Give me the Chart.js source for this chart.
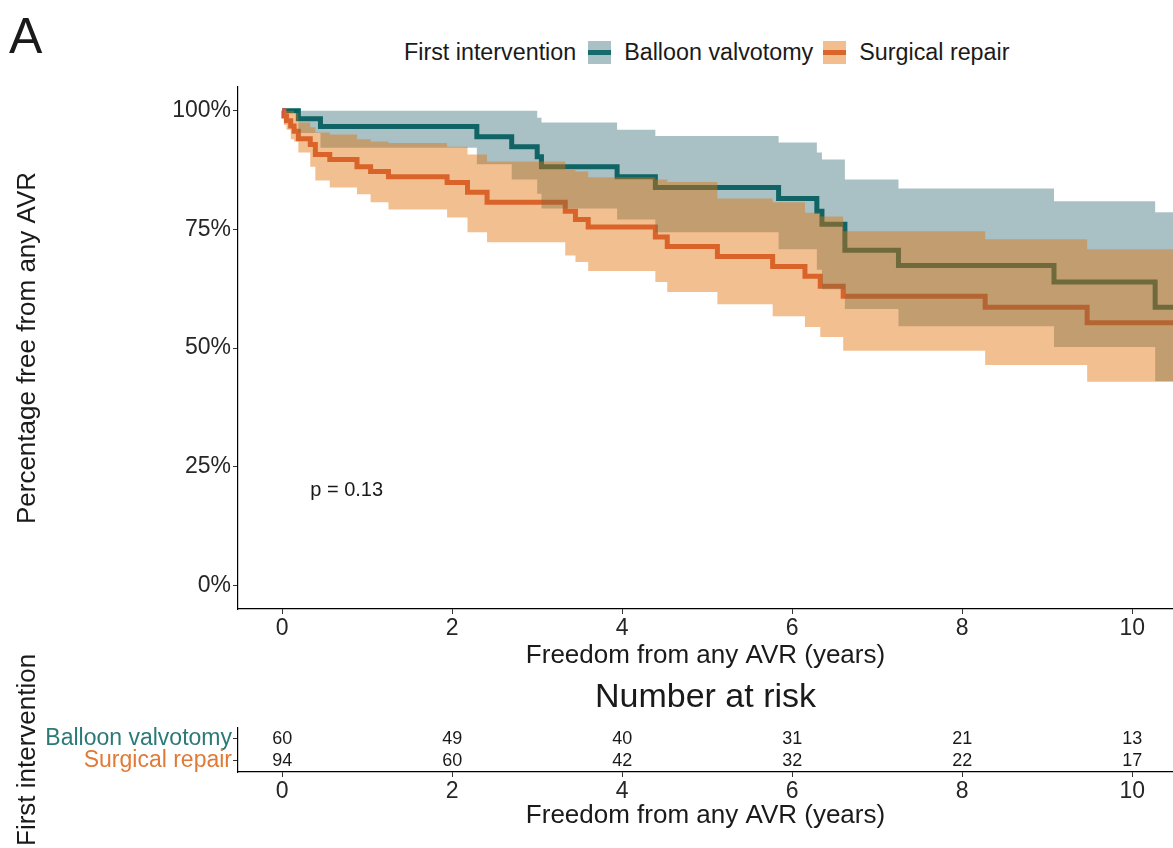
<!DOCTYPE html>
<html>
<head>
<meta charset="utf-8">
<script src="https://cdn.jsdelivr.net/npm/chart.js@4.4.0/dist/chart.umd.min.js"></script>
<style>
  body { margin: 0; background: #fff; width: 1173px; height: 848px; overflow: hidden; position: relative;
         font-family: "Liberation Sans", Arial, sans-serif; color: #1a1a1a; }
  #tag { position: absolute; left: 9px; top: 11px; font-size: 50px; line-height: 50px; }
  #legend { position: absolute; left: 404px; top: 37px; height: 30px; display: flex; align-items: center;
            font-size: 23.3px; line-height: 30px; white-space: nowrap; }
  .key { width: 23px; height: 23px; position: relative; }
  .key i { position: absolute; left: 0; right: 0; top: 9px; height: 5px; }
  canvas { position: absolute; left: 0; }
  #km { top: 0; }
  #risk { top: 640px; }
</style>
</head>
<body>
<div id="tag">A</div>
<div id="legend">
  <span>First intervention</span>
  <span class="key" style="margin:0 13px 0 12px;background:#a9c1c5"><i style="background:#176b6c"></i></span>
  <span>Balloon valvotomy</span>
  <span class="key" style="margin:0 13px 0 10px;background:#f2be8f"><i style="background:#d9652a"></i></span>
  <span>Surgical repair</span>
</div>
<canvas id="km" width="1173" height="680"></canvas>
<canvas id="risk" width="1173" height="208"></canvas>

<script>
// Freedom from any AVR by first intervention (Kaplan-Meier, 95% CI)
const groups = ['Balloon valvotomy', 'Surgical repair'];

const balloonTime  = [0, 0.19, 0.45, 2.29, 2.70, 3.00, 3.05, 3.94, 4.39, 5.84, 6.29, 6.35, 6.62, 7.25, 9.08, 10.27, 10.5];
const balloonSurv  = [100, 98.3, 96.7, 94.5, 92.4, 90.3, 88.2, 86.1, 83.8, 81.5, 78.8, 76.1, 70.6, 67.4, 63.9, 58.6, 58.6];
const balloonUpper = [100, 100, 100, 100, 100, 98.5, 97.5, 96.0, 94.7, 93.3, 91.2, 89.7, 85.5, 83.6, 80.9, 78.6, 78.6];
const balloonLower = [100, 95.3, 92.2, 88.7, 85.5, 82.5, 79.4, 77.1, 74.4, 70.8, 66.5, 62.4, 58.2, 54.6, 50.2, 43.0, 43.0];

const surgicalTime  = [0, 0.02, 0.05, 0.10, 0.14, 0.19, 0.33, 0.39, 0.56, 0.88, 1.04, 1.25, 1.94, 2.18, 2.41, 3.33, 3.45, 3.60, 4.39, 4.53, 5.12, 5.77, 6.15, 6.33, 6.60, 8.27, 9.47, 10.5];
const surgicalSurv  = [100, 98.9, 97.9, 96.8, 95.7, 94.1, 92.9, 90.8, 89.7, 88.2, 87.2, 86.1, 84.9, 82.8, 80.7, 78.8, 77.1, 75.5, 73.4, 71.4, 69.3, 67.2, 65.1, 63.0, 60.9, 58.6, 55.3, 55.3];
const surgicalUpper = [100, 100, 100, 100, 99.5, 97.5, 96.5, 95.4, 95.0, 94.0, 93.5, 93.2, 92.4, 90.8, 89.3, 87.5, 87.2, 86.0, 85.5, 85.0, 81.5, 80.7, 78.5, 77.7, 74.6, 72.9, 70.8, 70.8];
const surgicalLower = [100, 97.0, 96.0, 94.0, 93.5, 91.2, 88.2, 85.3, 83.8, 82.4, 80.7, 79.2, 77.5, 74.4, 72.3, 69.5, 68.1, 66.2, 63.9, 61.8, 59.2, 56.7, 54.4, 52.3, 49.4, 46.4, 42.9, 42.9];

const riskTimes = [0, 2, 4, 6, 8, 10];
const balloonAtRisk  = [60, 49, 40, 31, 21, 13];
const surgicalAtRisk = [94, 60, 42, 32, 22, 17];

const xTicks = [0, 2, 4, 6, 8, 10];
const yTicks = [0, 25, 50, 75, 100];
const pValueText = 'p = 0.13';
const pValueAt = { x: 0.33, y: 20 };

const X_MIN = -0.52, X_MAX = 10.48;
const TEAL_LINE = 'rgb(0, 100, 98)';
const ORANGE_LINE = 'rgb(211, 88, 68)';
const TEAL_BAND = 'rgba(40, 100, 107, 0.4)';
const ORANGE_BAND = 'rgba(226, 112, 10, 0.45)';
const TEXT = '#1a1a1a';
const TICK_TEXT = '#262626';
const FONT = '"Liberation Sans", Arial, sans-serif';

Chart.defaults.font.family = FONT;
Chart.defaults.color = TICK_TEXT;

function pts(xs, ys) {
    return xs.map((x, i) => ({ x: x, y: ys[i] }));
}

function setTicks(values) {
    return scale => { scale.ticks = values.map(v => ({ value: v })); };
}

function survLine(label, xs, ys, color) {
    return {
        label: label, data: pts(xs, ys), stepped: true, borderColor: color, borderWidth: 5,
        pointRadius: 0, fill: false, order: 2
    };
}

function band(xs, ys, color, fill, order) {
    return {
        data: pts(xs, ys), stepped: true, borderWidth: 0, borderColor: 'transparent',
        backgroundColor: color, pointRadius: 0, fill: fill, order: order
    };
}

function axisStyle(extra) {
    return Object.assign({
        border: { display: true, color: '#000', width: 1.2 },
        grid: { drawOnChartArea: false, offset: false, tickLength: 5, tickColor: '#333' }
    }, extra);
}

const pValuePlugin = {
    id: 'pValue',
    afterDatasetsDraw(chart) {
        const { ctx, scales } = chart;
        ctx.save();
        ctx.font = '20px ' + FONT;
        ctx.fillStyle = TEXT;
        ctx.textAlign = 'left';
        ctx.textBaseline = 'middle';
        ctx.fillText(pValueText, scales.x.getPixelForValue(pValueAt.x), scales.y.getPixelForValue(pValueAt.y));
        ctx.restore();
    }
};

new Chart(document.getElementById('km'), {
    type: 'line',
    data: {
        datasets: [
            // orange band on top, teal band under it, lines at the bottom
            band(surgicalTime, surgicalUpper, ORANGE_BAND, '+1', 0),
            band(surgicalTime, surgicalLower, ORANGE_BAND, false, 0),
            band(balloonTime, balloonUpper, TEAL_BAND, '+1', 1),
            band(balloonTime, balloonLower, TEAL_BAND, false, 1),
            survLine(groups[1], surgicalTime, surgicalSurv, ORANGE_LINE),
            survLine(groups[0], balloonTime, balloonSurv, TEAL_LINE)
        ]
    },
    options: {
        responsive: false,
        animation: false,
        layout: { padding: { top: 87, left: 0, right: 0, bottom: 0 } },
        plugins: { legend: { display: false }, tooltip: { enabled: false } },
        scales: {
            x: axisStyle({
                type: 'linear', min: X_MIN, max: X_MAX,
                afterBuildTicks: setTicks(xTicks),
                afterFit: s => { s.height = 71; },
                ticks: { font: { size: 23 }, padding: 1, maxRotation: 0, color: TICK_TEXT },
                title: {
                    display: true, text: 'Freedom from any AVR (years)', color: TEXT,
                    font: { size: 26 }, padding: { top: 0, bottom: 9 }
                }
            }),
            y: axisStyle({
                type: 'linear', min: -5, max: 105,
                afterBuildTicks: setTicks(yTicks),
                afterFit: s => { s.width = 238; },
                ticks: { font: { size: 23 }, padding: 2, color: TICK_TEXT, callback: v => v + '%' },
                title: {
                    display: true, text: 'Percentage free from any AVR', color: TEXT,
                    font: { size: 26 }, padding: { top: 12, bottom: 0 }
                }
            })
        }
    },
    plugins: [pValuePlugin]
});

// number-at-risk table
const riskLabelColors = ['#2b7a77', '#e07a36'];
const riskTitleY = 'First intervention';

const riskNumbersPlugin = {
    id: 'riskNumbers',
    afterDatasetsDraw(chart) {
        const ctx = chart.ctx;
        ctx.save();
        ctx.font = '18px ' + FONT;
        ctx.fillStyle = TEXT;
        ctx.textAlign = 'center';
        ctx.textBaseline = 'middle';
        chart.data.datasets.forEach((ds, i) => {
            chart.getDatasetMeta(i).data.forEach((el, j) => {
                ctx.fillText(String(ds.counts[j]), el.x, el.y);
            });
        });
        ctx.restore();
    },
    afterDraw(chart) {
        // the axis box is too short for a rotated title, so it is drawn here at full length
        const { ctx, chartArea } = chart;
        ctx.save();
        ctx.font = '26px ' + FONT;
        ctx.fillStyle = TEXT;
        ctx.textAlign = 'center';
        ctx.textBaseline = 'middle';
        ctx.translate(28, (chartArea.top + chartArea.bottom) / 2);
        ctx.rotate(-Math.PI / 2);
        ctx.fillText(riskTitleY, 0, 0);
        ctx.restore();
    }
};

function riskRow(group, counts) {
    return {
        data: riskTimes.map(t => ({ x: t, y: group })),
        counts: counts, pointRadius: 0, showLine: false
    };
}

new Chart(document.getElementById('risk'), {
    type: 'scatter',
    data: {
        datasets: [
            riskRow(groups[0], balloonAtRisk),
            riskRow(groups[1], surgicalAtRisk)
        ]
    },
    options: {
        responsive: false,
        animation: false,
        layout: { padding: { top: 30, left: 0, right: 0, bottom: 0 } },
        plugins: {
            legend: { display: false },
            tooltip: { enabled: false },
            title: {
                display: true, text: 'Number at risk', fullSize: false, color: TEXT,
                font: { size: 34, weight: 'normal' }, padding: { top: 7, bottom: 10 }
            }
        },
        scales: {
            x: axisStyle({
                type: 'linear', min: X_MIN, max: X_MAX,
                afterBuildTicks: setTicks(xTicks),
                afterFit: s => { s.height = 76; },
                ticks: { font: { size: 23 }, padding: 1, maxRotation: 0, color: TICK_TEXT },
                title: {
                    display: true, text: 'Freedom from any AVR (years)', color: TEXT,
                    font: { size: 26 }, padding: { top: 0, bottom: 17 }
                }
            }),
            y: axisStyle({
                type: 'category', labels: groups, offset: true,
                afterFit: s => { s.width = 238; },
                ticks: { font: { size: 23 }, padding: 1, autoSkip: false, color: c => riskLabelColors[c.index] }
            })
        }
    },
    plugins: [riskNumbersPlugin]
});
</script>
</body>
</html>
